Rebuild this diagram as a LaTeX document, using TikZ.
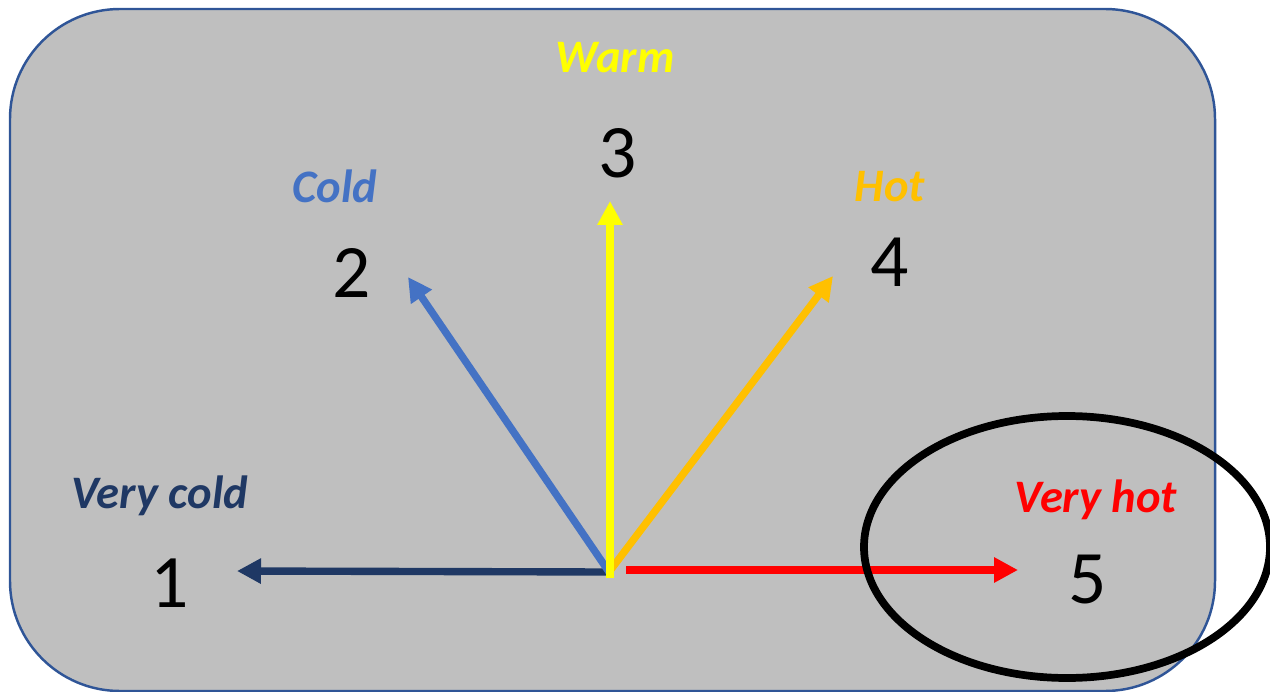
\documentclass[tikz,border=0pt]{standalone}
\usepackage{fontspec}
\setmainfont{Carlito}
\usepackage{xcolor}
\definecolor{vcold}{RGB}{31, 56, 100}
\definecolor{cold}{RGB}{68, 114, 196}
\definecolor{warm}{RGB}{255, 255, 0}
\definecolor{hot}{RGB}{255, 192, 0}
\definecolor{vhot}{RGB}{255, 0, 0}
\definecolor{panel}{RGB}{191, 191, 191}
\definecolor{frame}{RGB}{47, 85, 151}
\usetikzlibrary{arrows.meta, positioning}
\tikzset{
  panelbox/.style={draw=frame, fill=panel, line width=1.4pt,
    rounded corners=2.2cm},
  numnode/.style={anchor=base, inner sep=0pt, text=black,
    font=\fontsize{43}{50}\selectfont},
  scalelabel/.style={anchor=base, inner sep=0pt,
    font=\fontsize{26.5}{32}\selectfont\bfseries\itshape},
  vecarrow/.style={-{Triangle[width=0.48cm, length=0.48cm]},
    line width=4.2pt},
  ringmark/.style={draw=black, line width=4.4pt}
}

\begin{document}
\begin{tikzpicture}[x=0.02cm, y=-0.02cm]

  \useasboundingbox (0,0) rectangle (1270,692);
  \clip (0,0) rectangle (1270,692);

  % background panel
  \path[panelbox] (10,9) rectangle (1215,691);

  % scale numbers
  \node[numnode] (n1) at (170,607) {1};
  \node[numnode] (n2) at (352,297) {2};
  \node[numnode] (n3) at (618,178) {3};
  \node[numnode] (n4) at (890,287) {4};
  \node[numnode] (n5) at (1088,603) {5};

  % scale labels
  \node[scalelabel, text=vcold] (l1) at (160,508) {Very cold};
  \node[scalelabel, text=cold]  (l2) at (335,203) {Cold};
  \node[scalelabel, text=warm]  (l3) at (615,73)  {Warm};
  \node[scalelabel, text=hot]   (l4) at (890,202) {Hot};
  \node[scalelabel, text=vhot]  (l5) at (1096,512) {Very hot};

  % arrow origins and tips
  \coordinate (o) at (609,572);
  \coordinate (o3) at (610,578);
  \coordinate (o5) at (626,570);
  \coordinate (t1) at (237,571);
  \coordinate (t2) at (408,277);
  \coordinate (t3) at (610,201);
  \coordinate (t4) at (833,276);
  \coordinate (t5) at (1018,570);

  \draw[vecarrow, draw=vcold] (o) -- (t1);
  \draw[vecarrow, draw=cold] (o) -- (t2);
  \draw[vecarrow, draw=hot] (o) -- (t4);
  \draw[vecarrow, draw=warm] (o3) -- (t3);
  \draw[vecarrow, draw=vhot] (o5) -- (t5);

  % highlight round "very hot"
  \draw[ringmark] (1067,547) ellipse [x radius=203, y radius=131];

\end{tikzpicture}
\end{document}
